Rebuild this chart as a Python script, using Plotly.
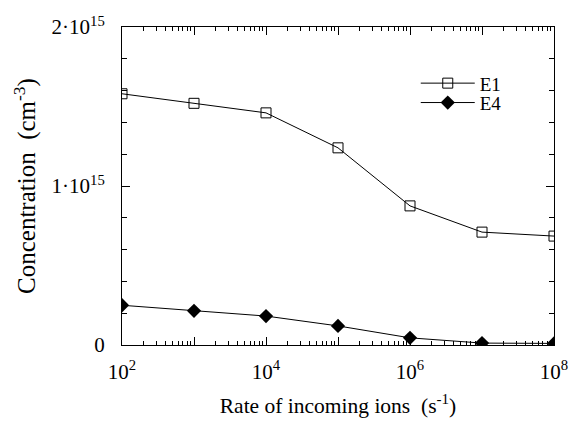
import plotly.graph_objects as go

rate = [1e2, 1e3, 1e4, 1e5, 1e6, 1e7, 1e8]
e1 = [1.58e15, 1.52e15, 1.46e15, 1.24e15, 0.875e15, 0.71e15, 0.685e15]
e4 = [0.25e15, 0.215e15, 0.182e15, 0.12e15, 0.045e15, 0.012e15, 0.01e15]

x_tickvals = [1e2, 1e3, 1e4, 1e5, 1e6, 1e7, 1e8]
x_ticktext = ["10<sup>2</sup>", "", "10<sup>4</sup>", "", "10<sup>6</sup>", "", "10<sup>8</sup>"]
y_tickvals = [0, 1e15, 2e15]
y_ticktext = ["0", "1·10<sup>15</sup>", "2·10<sup>15</sup>"]

FONT = "Liberation Serif"

fig = go.Figure()
fig.add_trace(go.Scatter(
    x=rate, y=e1, name="E1", mode="lines+markers", legend="legend",
    line=dict(color="black", width=1),
    marker=dict(symbol="square-open", size=10, color="black", line=dict(width=1)),
))
fig.add_trace(go.Scatter(
    x=rate, y=e4, name="E4", mode="lines+markers", legend="legend2",
    line=dict(color="black", width=1),
    marker=dict(symbol="diamond", size=11, color="black"),
))

leg_common = dict(xanchor="left", yanchor="middle", bgcolor="rgba(0,0,0,0)",
                  font=dict(size=19, family=FONT), itemwidth=54)

fig.update_layout(
    width=573, height=425,
    margin=dict(l=122, r=19, t=27, b=80),
    paper_bgcolor="white", plot_bgcolor="white",
    font=dict(family=FONT, size=18, color="black"),
    showlegend=True,
    legend=dict(x=0.68, y=0.823, **leg_common),
    legend2=dict(x=0.68, y=0.762, **leg_common),
    xaxis=dict(
        type="log", range=[2, 8], automargin=False,
        tickvals=x_tickvals, ticktext=x_ticktext,
        ticks="inside", ticklen=8, tickcolor="black",
        showline=True, linecolor="black", linewidth=1, mirror="ticks",
        showgrid=False, zeroline=False,
        minor=dict(ticks="inside", ticklen=4, dtick="D1", tickcolor="black", showgrid=False),
        title=dict(text="Rate of incoming ions  (s<sup>-1</sup>)", font=dict(size=21.5), standoff=14),
        tickfont=dict(size=21),
        ticklabelstandoff=8,
    ),
    yaxis=dict(
        range=[0, 2e15], automargin=False,
        tickvals=y_tickvals, ticktext=y_ticktext,
        ticks="inside", ticklen=8, tickcolor="black",
        showline=True, linecolor="black", linewidth=1, mirror="ticks",
        showgrid=False, zeroline=False,
        minor=dict(ticks="inside", ticklen=5, dtick=2e14, tickcolor="black", showgrid=False),
        title=dict(text="Concentration  (cm<sup>-3</sup>)", font=dict(size=25), standoff=8),
        tickfont=dict(size=21),
        ticklabelstandoff=12,
    ),
)

fig.write_html("out.html")
